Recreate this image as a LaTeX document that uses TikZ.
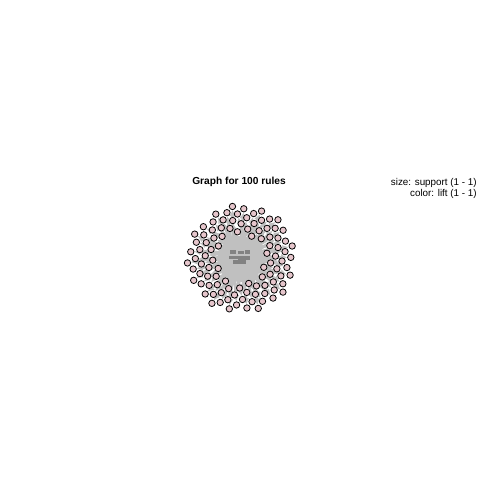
\documentclass[tikz,border=0pt]{standalone}
\usepackage{fontspec}
\setmainfont{Liberation Sans}
\usetikzlibrary{arrows.meta}
\definecolor{rulepink}{RGB}{230,198,204}
\definecolor{edgegray}{RGB}{192,192,192}
\definecolor{labgray}{RGB}{70,70,70}
\pgfdeclarelayer{bg}
\pgfsetlayers{bg,main}
\begin{document}
\begin{tikzpicture}[x=0.2mm,y=-0.2mm,
  rulenode/.style={circle,draw=black,fill=rulepink,line width=0.45pt,minimum size=1.28mm,inner sep=0pt},
  itemlabel/.style={rectangle,fill=labgray,opacity=0.5,inner sep=0pt,minimum height=0.7mm},
  edge/.style={draw=edgegray,line width=1.6pt,-{Latex[length=3.5pt,width=4pt]}},
  titletext/.style={font=\fontsize{5.8}{7}\selectfont\bfseries,inner sep=0pt,anchor=base},
  legendtext/.style={font=\fontsize{5.6}{6.6}\selectfont,inner sep=0pt,anchor=base east}]
\useasboundingbox (0,0) rectangle (480,480);
\node[titletext] (title) at (239,184.5) {Graph for 100 rules};
\node[legendtext] (leg1) at (477,185.7) {size: support (1 - 1)};
\node[legendtext] (leg2) at (477,196.7) {color: lift (1 - 1)};
% item labels in the centre (unreadable overlapping labels)
\node[itemlabel,minimum width=1.3mm] (it1) at (233,252) {};
\node[itemlabel,minimum width=1.3mm] (it2) at (241,252.5) {};
\node[itemlabel,minimum width=0.9mm] (it3) at (247.5,252) {};
\node[itemlabel,minimum width=1.8mm] (it4) at (233,257.5) {};
\node[itemlabel,minimum width=2.4mm] (it5) at (244,258) {};
\node[itemlabel,minimum width=2.6mm] (it6) at (239,262) {};
% rule nodes
\foreach \i in {0,...,99}{
  \pgfmathsetmacro\rr{sqrt(576+23.4*(\i+0.5))}
  \pgfmathsetmacro\aa{mod(\i*137.508+20,360)}
  \node[rulenode] (r\i) at ({241+\rr*cos(\aa)},{259+\rr*sin(\aa)}) {};
}
\begin{pgfonlayer}{bg}
  \fill[white] (0,0) rectangle (480,480);
  \fill[edgegray] (241,259) circle (23);
  \foreach \i in {0,...,99}{
    \pgfmathtruncatemacro\k{mod(\i,6)+1}
    \draw[edge] (it\k) -- (r\i);
  }
\end{pgfonlayer}
\end{tikzpicture}
\end{document}
